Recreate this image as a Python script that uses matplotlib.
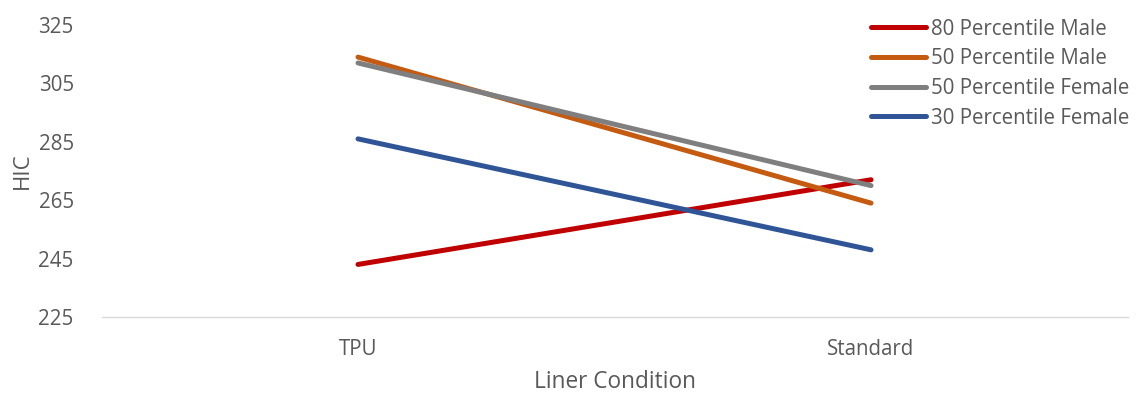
import matplotlib
matplotlib.use('Agg')
import matplotlib.pyplot as plt

categorias = ['TPU', 'Standard']
series = ['80 Percentile Male', '50 Percentile Male', '50 Percentile Female', '30 Percentile Female']
valores = [
    [243, 272],
    [314, 264],
    [312, 270],
    [286, 248],
]
cores = ['#C00000', '#C55A11', '#7F7F7F', '#2F5597']

plt.rcParams['font.family'] = ['Open Sans', 'DejaVu Sans']
cinza_texto = '#595959'

fig = plt.figure(figsize=(11.38, 3.93), dpi=100)
ax = fig.add_axes([0.0892, 0.1934, 0.9016, 0.743])

x = range(len(categorias))
for nome, v, c in zip(series, valores, cores):
    ax.plot(x, v, color=c, linewidth=3.6, solid_capstyle='round', label=nome)

ax.set_xlim(-0.5, 1.5)
ax.set_ylim(225, 325)
ax.set_yticks(range(225, 326, 20))
ax.set_xticks(list(x))
ax.set_xticklabels(categorias)

for s in ['top', 'right', 'left']:
    ax.spines[s].set_visible(False)
ax.spines['bottom'].set_color('#D9D9D9')
ax.spines['bottom'].set_linewidth(1)
ax.tick_params(axis='both', length=0, labelsize=14.8, labelcolor=cinza_texto)
ax.tick_params(axis='y', pad=20)
ax.tick_params(axis='x', pad=16)

ax.set_xlabel('Liner Condition', fontsize=16.3, color=cinza_texto, labelpad=7)
ax.set_ylabel('HIC', fontsize=16, color=cinza_texto, labelpad=4)

leg = ax.legend(loc='upper right', bbox_to_anchor=(1.01, 1.05), frameon=False,
                fontsize=14.8, handlelength=2.7, handletextpad=0.25,
                labelspacing=0.42, borderaxespad=0)
for t in leg.get_texts():
    t.set_color(cinza_texto)

fig.savefig('out.png', dpi=100)
